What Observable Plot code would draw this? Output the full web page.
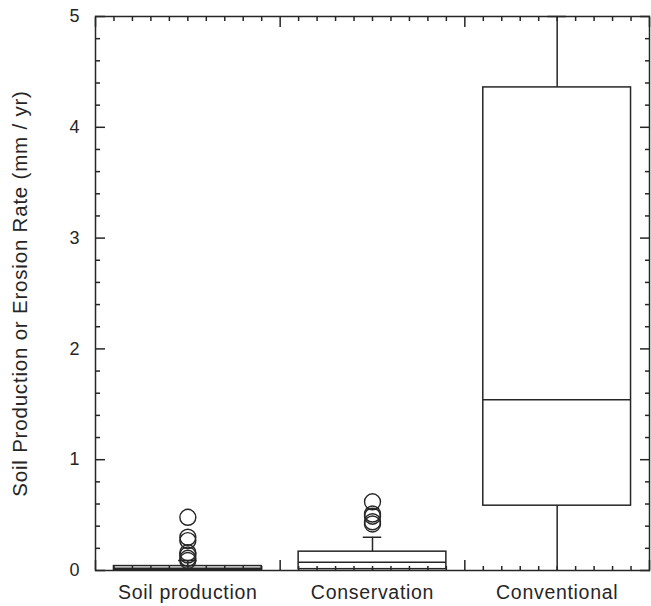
<!DOCTYPE html>
<html><head><meta charset="utf-8">
<script src="https://cdn.jsdelivr.net/npm/d3@7"></script>
<script src="https://cdn.jsdelivr.net/npm/@observablehq/plot@0.6"></script>
<style>
body{margin:0;background:#fff;}
g[aria-label="x-axis tick label"] text{letter-spacing:0.7px;}
g[aria-label="y-axis label"] text{letter-spacing:0.8px;}
</style>
</head><body><div id="chart"></div>
<script>
const categories = ["Soil production", "Conservation", "Conventional"];
const positions = [0.5, 1.5, 2.5];
const q1 = [0.005, 0.012, 0.585];
const median = [0.02, 0.075, 1.54];
const q3 = [0.04, 0.17, 4.36];
const whiskerLow = [0, 0, 0];
const whiskerHigh = [0.09, 0.30, 5];
const soilOutliers = [0.48, 0.30, 0.27, 0.16, 0.14, 0.11, 0.09];
const conservationOutliers = [0.62, 0.51, 0.49, 0.44, 0.42];
const conventionalOutliers = [];
const yMajorTicks = [0, 1, 2, 3, 4, 5];
const yTitle = "Soil Production or Erosion Rate (mm / yr)";

const boxes = categories.map((c, i) => ({cat: c, x: positions[i], q1: q1[i], med: median[i], q3: q3[i], lo: whiskerLow[i], hi: whiskerHigh[i]}));
const outlierRows = [
  ...soilOutliers.map(v => ({x: positions[0], v})),
  ...conservationOutliers.map(v => ({x: positions[1], v})),
  ...conventionalOutliers.map(v => ({x: positions[2], v}))
];
const yMinor = d3.range(0, 5.001, 0.2).map(v => +v.toFixed(1)).filter(v => !yMajorTicks.includes(v));
const xMinor = d3.range(0, 3.001, 0.1).map(v => +v.toFixed(1)).filter(v => v % 1 !== 0);
const xMajor = [0, 1, 2, 3];
const ink = "#262626";
const half = 0.4, cap = 0.05;
const blank = () => "";

const chart = Plot.plot({
  width: 651, height: 606,
  marginLeft: 95, marginRight: 2, marginTop: 16, marginBottom: 36,
  x: {domain: [0, 3]},
  y: {domain: [0, 5]},
  style: {fontFamily: "'Liberation Sans', Arial, Helvetica, sans-serif", fontSize: "18px", color: ink, background: "#fff"},
  marks: [
    Plot.ruleX(boxes, {x: "x", y1: "lo", y2: "q1", stroke: ink, strokeWidth: 1.5}),
    Plot.ruleX(boxes, {x: "x", y1: "q3", y2: "hi", stroke: ink, strokeWidth: 1.5}),
    Plot.ruleY(boxes, {y: "hi", x1: d => d.x - cap, x2: d => d.x + cap, stroke: ink, strokeWidth: 1.5}),
    Plot.rect(boxes, {x1: d => d.x - half, x2: d => d.x + half, y1: "q1", y2: "q3", stroke: ink, fill: "none", strokeWidth: 1.5}),
    Plot.ruleY(boxes, {y: "med", x1: d => d.x - half, x2: d => d.x + half, stroke: ink, strokeWidth: 1.5}),
    Plot.dot(outlierRows, {x: "x", y: "v", r: 8, stroke: ink, fill: "none", strokeWidth: 1.4}),
    // y axes
    Plot.axisY({anchor: "left", ticks: yMajorTicks, tickSize: 0, tickPadding: 16, tickFormat: d3.format("d"), fontSize: 18, label: null}),
    Plot.axisY({anchor: "left", ticks: [], tickSize: 0, tickFormat: blank, fontSize: 20.5,
      label: yTitle, labelAnchor: "center", labelArrow: "none", labelOffset: 83}),
    Plot.axisY({anchor: "left", ticks: yMajorTicks, tickSize: -10, tickFormat: blank, label: null, strokeWidth: 1.5, stroke: ink}),
    Plot.axisY({anchor: "left", ticks: yMinor, tickSize: -5, tickFormat: blank, label: null, strokeWidth: 1.5, stroke: ink}),
    Plot.axisY({anchor: "right", ticks: yMajorTicks, tickSize: -10, tickFormat: blank, label: null, strokeWidth: 1.5, stroke: ink}),
    Plot.axisY({anchor: "right", ticks: yMinor, tickSize: -5, tickFormat: blank, label: null, strokeWidth: 1.5, stroke: ink}),
    // x axes
    Plot.axisX({anchor: "bottom", ticks: positions, tickSize: 0, tickPadding: 15, fontSize: 19.5, tickFormat: d => categories[Math.floor(d)], label: null}),
    Plot.axisX({anchor: "bottom", ticks: xMajor, tickSize: -10, tickFormat: blank, label: null, strokeWidth: 1.5, stroke: ink}),
    Plot.axisX({anchor: "bottom", ticks: xMinor, tickSize: -4, tickFormat: blank, label: null, strokeWidth: 1.5, stroke: ink}),
    Plot.axisX({anchor: "top", ticks: xMajor, tickSize: -10, tickFormat: blank, label: null, strokeWidth: 1.5, stroke: ink}),
    Plot.axisX({anchor: "top", ticks: xMinor, tickSize: -4, tickFormat: blank, label: null, strokeWidth: 1.5, stroke: ink}),
    Plot.frame({stroke: ink, strokeWidth: 1.5})
  ]
});
document.getElementById("chart").append(chart);
</script>
</body></html>
